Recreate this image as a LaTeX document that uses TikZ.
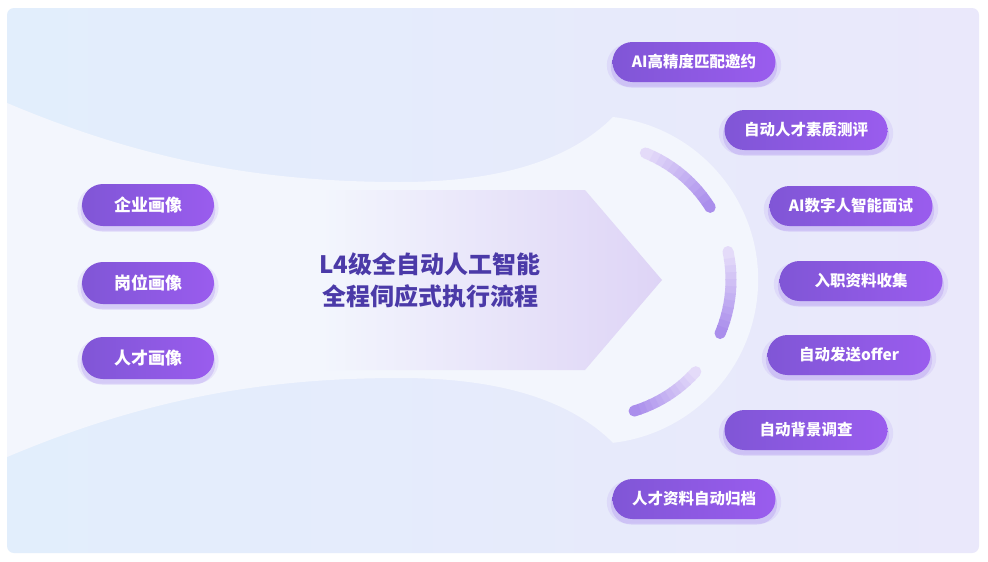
\documentclass[tikz,border=0pt]{standalone}
\usepackage{fontspec}
\newfontfamily\cjk{Noto Sans CJK SC}
\usetikzlibrary{shapes.misc,shadows}
\definecolor{cardL}{RGB}{226,238,252}
\definecolor{cardR}{RGB}{234,232,251}
\definecolor{bandcol}{RGB}{243,246,253}
\definecolor{circcol}{RGB}{246,247,254}
\definecolor{arrowR}{RGB}{222,212,246}
\definecolor{arcL}{RGB}{228,219,249}
\definecolor{arcD}{RGB}{170,142,236}
\definecolor{titlecol}{RGB}{75,58,168}
\definecolor{pillL}{RGB}{128,86,214}
\definecolor{pillR}{RGB}{154,92,238}
\definecolor{shcol}{RGB}{150,110,235}
\begin{document}
\begin{tikzpicture}[x=1pt,y=-1pt,
  pillbase/.style={shape=rounded rectangle, left color=pillL, right color=pillR,
    text=white, inner sep=0pt,
    drop shadow={shadow xshift=0pt, shadow yshift=-5pt, shadow scale=1.02, opacity=.22, fill=shcol},
    drop shadow={shadow xshift=0pt, shadow yshift=-3pt, shadow scale=1.07, opacity=.12, fill=shcol}},
  lpill/.style={pillbase, minimum width=132pt, minimum height=42pt,
    font=\cjk\bfseries\fontsize{17}{20}\selectfont},
  rpill/.style={pillbase, minimum width=163pt, minimum height=40pt,
    font=\cjk\bfseries\fontsize{15.5}{19}\selectfont},
  title/.style={text=titlecol, align=center, font=\cjk\bfseries\fontsize{24}{32}\selectfont},
  arcseg/.style={line width=11pt}
]
\useasboundingbox (0,0) rectangle (988,562);
\fill[white] (0,0) rectangle (988,562);
% card
\begin{scope}
\clip[rounded corners=7pt] (7,8) rectangle (979,553);
\shade[left color=cardL, right color=cardR] (7,8) rectangle (979,553);
\coordinate (c) at (594,280);
% white band with round head
\fill[bandcol] (0,100) .. controls (140,160) and (260,182) .. (400,182)
  .. controls (500,182) and (570,160) .. (613,117)
  arc[start angle=-83.4, end angle=83.4, radius=164]
  .. controls (570,400) and (500,378) .. (400,378)
  .. controls (260,378) and (140,400) .. (0,460) -- cycle;
% arrow
\shade[left color=bandcol, right color=arrowR] (320,190) -- (585,190) -- (662,280) -- (585,370) -- (320,370) -- cycle;
% arcs
\foreach \a/\b in {-68/-32, -12/23, 42/73}{
  \fill[arcL] (c) ++(\a:137) circle[radius=5.5];
  \fill[arcD] (c) ++(\b:137) circle[radius=5.5];
  \foreach \i in {0,...,11}{
    \pgfmathsetmacro\s{\a+(\b-\a)*\i/12}
    \pgfmathsetmacro\e{\a+(\b-\a)*(\i+1.15)/12}
    \pgfmathsetmacro\p{100*\i/11}
    \draw[arcseg, color=arcD!\p!arcL] (c) ++(\s:137) arc[start angle=\s, end angle=\e, radius=137];
  }
}
\end{scope}
% title
\node[title] (t) at (430,280) {L4级全自动人工智能\\全程伺应式执行流程};
% left pills
\node[lpill] (l1) at (148,205) {企业画像};
\node[lpill] (l2) at (148,283) {岗位画像};
\node[lpill] (l3) at (148,358) {人才画像};
% right pills
\node[rpill] (r1) at (694,62) {AI高精度匹配邀约};
\node[rpill] (r2) at (806,130) {自动人才素质测评};
\node[rpill] (r3) at (851,206) {AI数字人智能面试};
\node[rpill] (r4) at (861,281) {入职资料收集};
\node[rpill] (r5) at (849,355) {自动发送offer};
\node[rpill] (r6) at (806,430) {自动背景调查};
\node[rpill] (r7) at (694,499) {人才资料自动归档};
\end{tikzpicture}
\end{document}
